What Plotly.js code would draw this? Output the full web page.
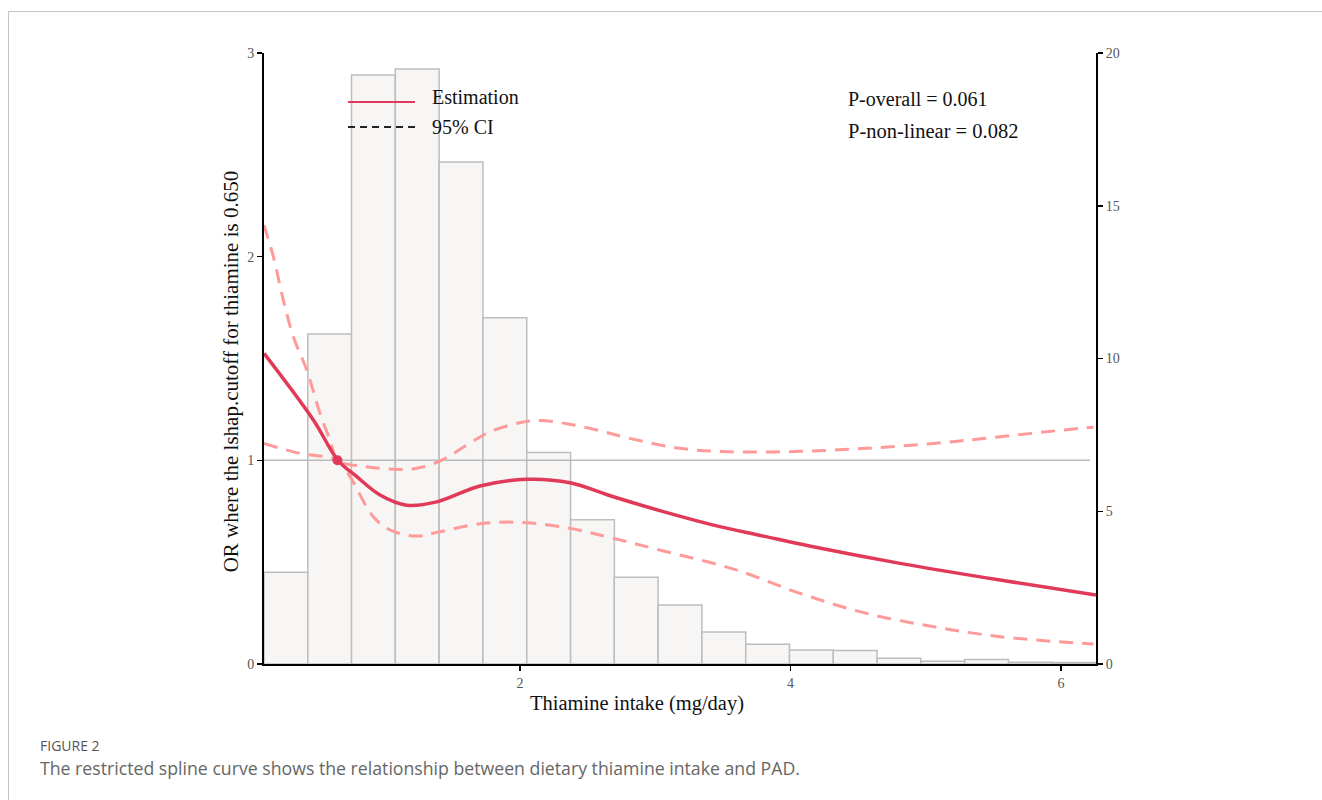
<!DOCTYPE html>
<html>
<head>
<meta charset="utf-8">
<script src="https://cdn.plot.ly/plotly-3.0.1.min.js"></script>
<style>
  html, body { margin: 0; padding: 0; background: #fff; }
  #wrap { position: relative; width: 1322px; height: 800px; overflow: hidden; }
  #frame { position: absolute; left: 8px; top: 11px; width: 1400px; height: 900px; border: 1px solid #c4c4c4; box-sizing: border-box; }
  #chart { position: absolute; left: 0; top: 0; width: 1322px; height: 800px; }
  #figlabel { position: absolute; left: 40px; top: 736px; font-family: "Open Sans", Lato, sans-serif; font-size: 14px; color: #555; }
  #caption { position: absolute; left: 40px; top: 756px; font-family: "Open Sans", Lato, sans-serif; font-size: 17.7px; color: #666; }
</style>
</head>
<body>
<div id="wrap">
  <div id="frame"></div>
  <div id="chart"></div>
  <div id="figlabel">FIGURE 2</div>
  <div id="caption">The restricted spline curve shows the relationship between dietary thiamine intake and PAD.</div>
</div>
<script>
// Histogram (right axis)
const binMid = [0.269, 0.593, 0.916, 1.240, 1.564, 1.888, 2.212, 2.536, 2.859, 3.183, 3.507, 3.831, 4.155, 4.478, 4.802, 5.126, 5.450, 5.774, 6.097];
const binHeight = [3.0, 10.8, 19.28, 19.48, 16.43, 11.33, 6.92, 4.72, 2.84, 1.93, 1.05, 0.65, 0.46, 0.44, 0.19, 0.09, 0.15, 0.06, 0.05];
const binWidth = 0.3238;

// Estimation curve (left axis)
const estX = [0.107, 0.472, 0.654, 0.793, 0.965, 1.162, 1.384, 1.704, 2.05, 2.37, 2.69, 3.06, 3.43, 3.80, 4.14, 4.81, 5.55, 6.259];
const estY = [1.525, 1.198, 1.0, 0.92, 0.83, 0.78, 0.796, 0.874, 0.907, 0.89, 0.821, 0.748, 0.682, 0.628, 0.579, 0.494, 0.412, 0.339];

// 95% CI bounds
const upperX = [0.107, 0.176, 0.25, 0.324, 0.423, 0.521, 0.595, 0.654, 0.867, 1.063, 1.236, 1.41, 1.606, 1.778, 2.0, 2.148, 2.345, 2.567, 2.81, 3.18, 3.55, 4.07, 4.56, 5.06, 5.55, 6.14, 6.24];
const upperY = [2.155, 2.0, 1.787, 1.607, 1.443, 1.231, 1.10, 1.0, 0.969, 0.956, 0.961, 0.997, 1.075, 1.14, 1.185, 1.195, 1.18, 1.149, 1.108, 1.059, 1.042, 1.044, 1.059, 1.083, 1.116, 1.157, 1.162];
const lowerX = [0.107, 0.373, 0.654, 0.743, 0.915, 1.04, 1.236, 1.41, 1.73, 2.05, 2.37, 2.69, 3.06, 3.58, 4.07, 4.56, 5.06, 5.55, 6.24];
const lowerY = [1.083, 1.034, 1.0, 0.92, 0.723, 0.658, 0.628, 0.65, 0.691, 0.694, 0.666, 0.617, 0.555, 0.466, 0.347, 0.249, 0.183, 0.134, 0.098];

// Reference point and line
const refX = [0.65];
const refY = [1];
const refLineX = [0.107, 6.214];
const refLineY = [1, 1];

const xRange = [0.107, 6.259];
const xTicks = [2, 4, 6];
const leftTicks = [0, 1, 2, 3];
const rightTicks = [0, 5, 10, 15, 20];

const serif = "'Liberation Serif', 'Times New Roman', serif";
const estColor = '#E03A58';
const ciColor = '#FF9A9A';

const traces = [
  { type: 'bar', x: binMid, y: binHeight, width: binWidth, xaxis: 'x', yaxis: 'y',
    marker: { color: '#f7f6f4', line: { color: '#bdbdbd', width: 1.5 } }, showlegend: false, hoverinfo: 'skip' },
  { type: 'scatter', mode: 'lines', x: refLineX, y: refLineY, xaxis: 'x', yaxis: 'y2',
    line: { color: '#bbbbbb', width: 1.5 }, showlegend: false },
  { type: 'scatter', mode: 'lines', x: upperX, y: upperY, xaxis: 'x', yaxis: 'y2',
    line: { color: ciColor, width: 3, dash: '14px,9px', shape: 'spline', smoothing: 1 }, showlegend: false },
  { type: 'scatter', mode: 'lines', x: lowerX, y: lowerY, xaxis: 'x', yaxis: 'y2',
    line: { color: ciColor, width: 3, dash: '14px,9px', shape: 'spline', smoothing: 1 }, showlegend: false },
  { type: 'scatter', mode: 'lines', x: estX, y: estY, xaxis: 'x', yaxis: 'y2',
    line: { color: estColor, width: 3.5, shape: 'spline', smoothing: 1 }, showlegend: false },
  { type: 'scatter', mode: 'markers', x: refX, y: refY, xaxis: 'x', yaxis: 'y2',
    marker: { color: estColor, size: 10 }, showlegend: false }
];

const tickFont = { family: serif, size: 14, color: '#555' };

const layout = {
  width: 1322, height: 800,
  margin: { l: 264, r: 226, t: 53, b: 136, pad: 0 },
  paper_bgcolor: 'rgba(0,0,0,0)', plot_bgcolor: 'rgba(0,0,0,0)',
  showlegend: false,
  bargap: 0,
  xaxis: { range: xRange, tickvals: xTicks, ticks: 'outside', ticklen: 5, tickwidth: 1.5, tickcolor: '#000',
    showline: true, linecolor: '#000', linewidth: 2, showgrid: false, zeroline: false, tickfont: tickFont, anchor: 'y' },
  yaxis: { range: [0, 20], side: 'right', tickvals: rightTicks, ticks: 'outside', ticklen: 5, tickwidth: 1.5, tickcolor: '#000',
    showline: true, linecolor: '#000', linewidth: 2, showgrid: false, zeroline: false, tickfont: tickFont },
  yaxis2: { range: [0, 3], side: 'left', overlaying: 'y', tickvals: leftTicks, ticks: 'outside', ticklen: 5, tickwidth: 1.5, tickcolor: '#000',
    showline: true, linecolor: '#000', linewidth: 2, showgrid: false, zeroline: false, tickfont: tickFont },
  shapes: [
    { type: 'line', xref: 'paper', yref: 'paper', x0: 0.101, x1: 0.1815, y0: 0.920, y1: 0.920, line: { color: estColor, width: 2 } },
    { type: 'line', xref: 'paper', yref: 'paper', x0: 0.101, x1: 0.1815, y0: 0.879, y1: 0.879, line: { color: '#222', width: 2, dash: '7px,5px' } }
  ],
  annotations: [
    { xref: 'paper', yref: 'paper', x: 0.2, y: 0.928, xanchor: 'left', yanchor: 'middle', showarrow: false,
      text: 'Estimation', font: { family: serif, size: 20, color: '#111' } },
    { xref: 'paper', yref: 'paper', x: 0.2, y: 0.879, xanchor: 'left', yanchor: 'middle', showarrow: false,
      text: '95% CI', font: { family: serif, size: 20, color: '#111' } },
    { xref: 'paper', yref: 'paper', x: 0.6995, y: 0.925, xanchor: 'left', yanchor: 'middle', showarrow: false,
      text: 'P-overall = 0.061', font: { family: serif, size: 20, color: '#111' } },
    { xref: 'paper', yref: 'paper', x: 0.6995, y: 0.873, xanchor: 'left', yanchor: 'middle', showarrow: false,
      text: 'P-non-linear = 0.082', font: { family: serif, size: 20.5, color: '#111' } },
    { xref: 'paper', yref: 'paper', x: 0.448, y: -0.064, xanchor: 'center', yanchor: 'middle', showarrow: false,
      text: 'Thiamine intake (mg/day)', font: { family: serif, size: 20.5, color: '#111' } },
    { xref: 'paper', yref: 'paper', x: -0.0397, y: 0.479, xanchor: 'center', yanchor: 'middle', showarrow: false, textangle: -90,
      text: 'OR where the lshap.cutoff for thiamine is 0.650', font: { family: serif, size: 21, color: '#111' } }
  ]
};

Plotly.newPlot('chart', traces, layout, { displayModeBar: false, staticPlot: true });
</script>
</body>
</html>
